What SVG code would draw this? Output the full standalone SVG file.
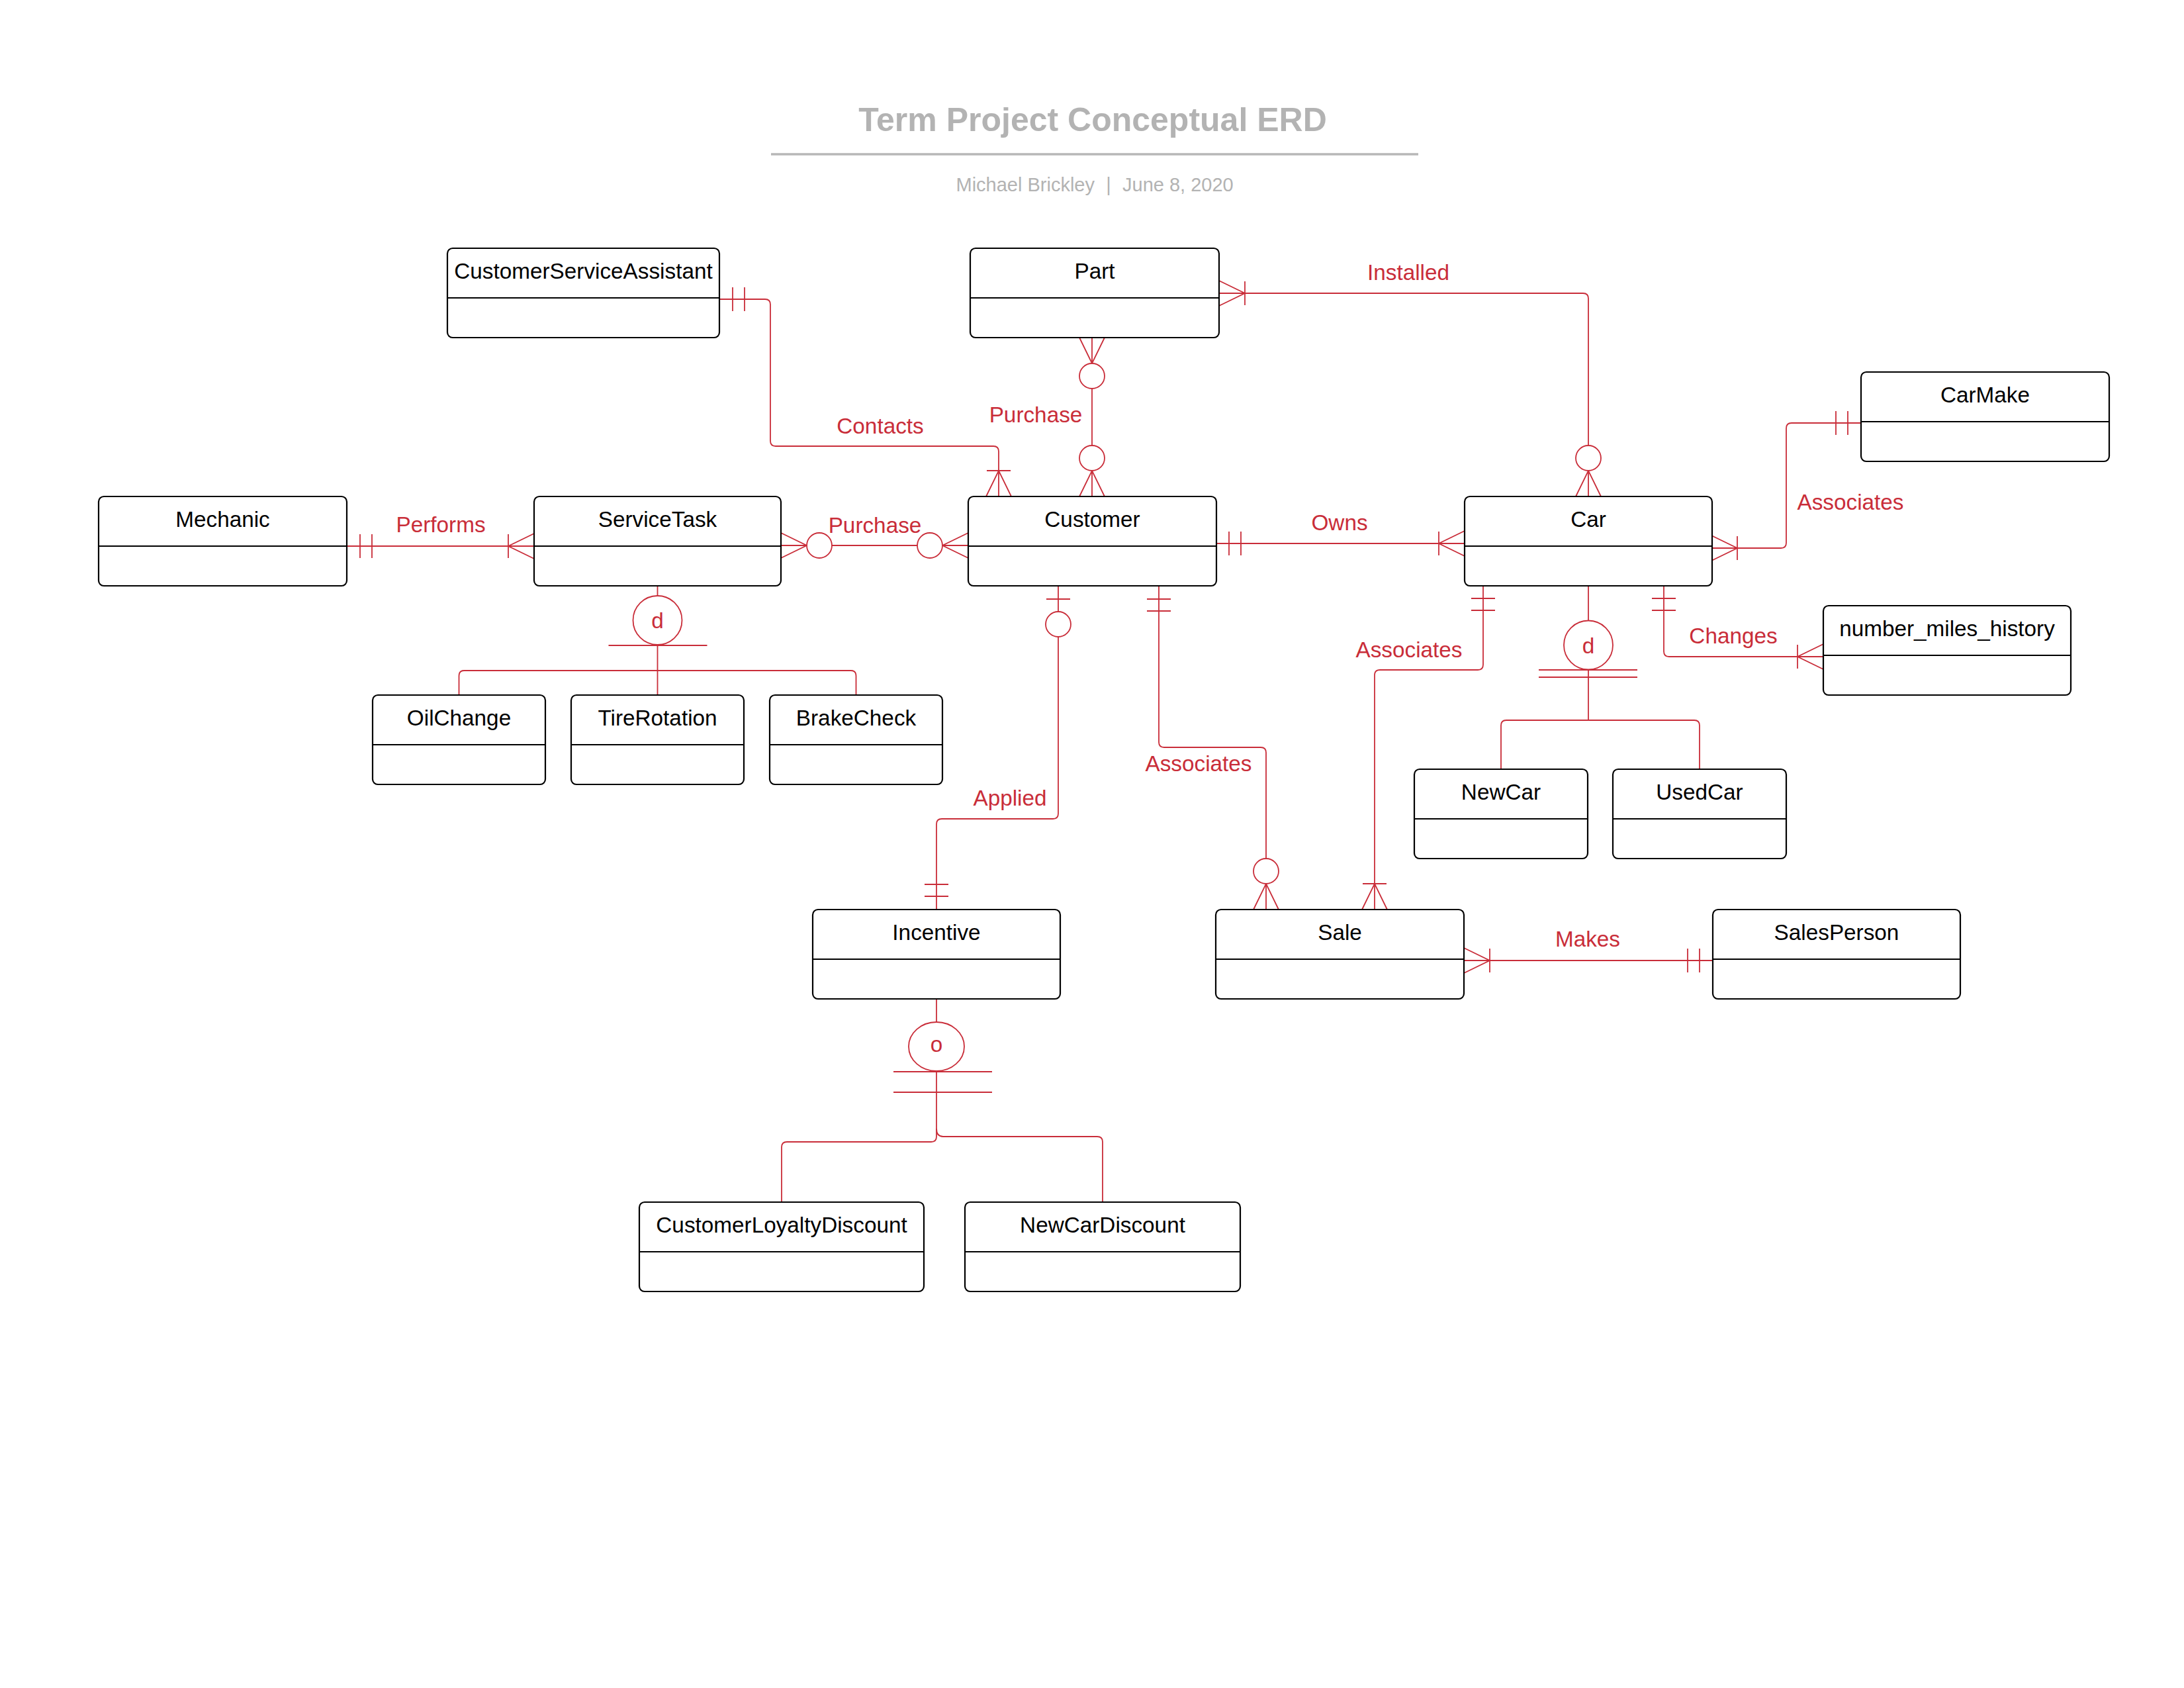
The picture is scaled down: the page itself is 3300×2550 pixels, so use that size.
<svg xmlns="http://www.w3.org/2000/svg" xmlns:xlink="http://www.w3.org/1999/xlink" width="3300" height="2550" viewBox="0 0 3300 2550">
<style>
.box{fill:#fff;stroke:#000;stroke-width:2.2}
.div{stroke:#000;stroke-width:2.2}
.et{font-family:"Liberation Sans",Arial,sans-serif;font-size:33.3px;fill:#000;text-anchor:middle}
.lbl{font-family:"Liberation Sans",Arial,sans-serif;font-size:33.3px;fill:#c92d39;text-anchor:middle}
.cn{fill:none;stroke:#c92d39;stroke-width:1.8}
.mk{fill:none;stroke:#c92d39;stroke-width:1.8}
.mkc{fill:#fff;stroke:#c92d39;stroke-width:1.8}
</style>
<defs>
<g id="oneMand"><line class="mk" x1="20" y1="-18" x2="20" y2="18"/><line class="mk" x1="38" y1="-18" x2="38" y2="18"/></g>
<g id="zeroOne"><line class="mk" x1="20" y1="-18" x2="20" y2="18"/><circle class="mkc" cx="58" cy="0" r="19"/></g>
<g id="oneMany"><path class="mk" d="M0,-19 L39,0 L0,19"/><line class="mk" x1="39" y1="-18" x2="39" y2="18"/></g>
<g id="zeroMany"><path class="mk" d="M0,-19 L39,0 L0,19"/><circle class="mkc" cx="58" cy="0" r="19"/></g>
</defs>
<rect width="3300" height="2550" fill="#fff"/>

<g id="title">
<text x="1651" y="198" font-family="Liberation Sans, Arial, sans-serif" font-size="50" font-weight="bold" fill="#b3b3b3" text-anchor="middle">Term Project Conceptual ERD</text>
<line x1="1165" y1="233" x2="2143" y2="233" stroke="#b7b7b7" stroke-width="3.5"/>
<text x="1654" y="289" font-family="Liberation Sans, Arial, sans-serif" font-size="29" fill="#b3b3b3" text-anchor="end">Michael Brickley</text>
<text x="1675" y="289" font-family="Liberation Sans, Arial, sans-serif" font-size="29" fill="#b3b3b3" text-anchor="middle">|</text>
<text x="1696" y="289" font-family="Liberation Sans, Arial, sans-serif" font-size="29" fill="#b3b3b3">June 8, 2020</text>
</g>

<g id="connectors">
<!-- Contacts -->
<path class="cn" d="M1087,452 H1156 Q1164,452 1164,460 V666 Q1164,674 1172,674 H1501 Q1509,674 1509,682 V750"/>
<use xlink:href="#oneMand" transform="translate(1087,452)"/>
<use xlink:href="#oneMany" transform="translate(1509,750) rotate(-90)"/>
<text class="lbl" x="1330" y="655">Contacts</text>
<!-- Purchase Part-Customer -->
<path class="cn" d="M1650,510 V750"/>
<use xlink:href="#zeroMany" transform="translate(1650,510) rotate(90)"/>
<use xlink:href="#zeroMany" transform="translate(1650,750) rotate(-90)"/>
<text class="lbl" x="1565" y="638">Purchase</text>
<!-- Installed -->
<path class="cn" d="M1842,443 H2392 Q2400,443 2400,451 V750"/>
<use xlink:href="#oneMany" transform="translate(1842,443)"/>
<use xlink:href="#zeroMany" transform="translate(2400,750) rotate(-90)"/>
<text class="lbl" x="2128" y="423">Installed</text>
<!-- Owns -->
<path class="cn" d="M1837,821 H2213"/>
<use xlink:href="#oneMand" transform="translate(1837,821)"/>
<use xlink:href="#oneMany" transform="translate(2213,821) rotate(180)"/>
<text class="lbl" x="2024" y="801">Owns</text>
<!-- Purchase ServiceTask-Customer -->
<path class="cn" d="M1180,824 H1463"/>
<use xlink:href="#zeroMany" transform="translate(1180,824)"/>
<use xlink:href="#zeroMany" transform="translate(1463,824) rotate(180)"/>
<text class="lbl" x="1322" y="805">Purchase</text>
<!-- Performs -->
<path class="cn" d="M524,825 H807"/>
<use xlink:href="#oneMand" transform="translate(524,825)"/>
<use xlink:href="#oneMany" transform="translate(807,825) rotate(180)"/>
<text class="lbl" x="666" y="804">Performs</text>
<!-- ServiceTask subtypes -->
<path class="cn" d="M993.5,885 V900"/>
<ellipse class="mkc" cx="993.5" cy="937" rx="37" ry="37"/>
<text class="lbl" x="993.5" y="949">d</text>
<path class="cn" d="M919.5,975 H1068.5"/>
<path class="cn" d="M993.5,974 V1050"/>
<path class="cn" d="M693.5,1050 V1021 Q693.5,1013 701.5,1013 H1285.5 Q1293.5,1013 1293.5,1021 V1050"/>
<!-- Car subtypes -->
<path class="cn" d="M2400,884 V937.5"/>
<ellipse class="mkc" cx="2400" cy="974.5" rx="37" ry="37"/>
<text class="lbl" x="2400" y="986.5">d</text>
<path class="cn" d="M2325,1012 H2474 M2325,1023 H2474"/>
<path class="cn" d="M2400,1011.5 V1088"/>
<path class="cn" d="M2268,1162 V1096 Q2268,1088 2276,1088 H2560 Q2568,1088 2568,1096 V1162"/>
<!-- Car-CarMake Associates -->
<path class="cn" d="M2586,828 H2691 Q2699,828 2699,820 V647 Q2699,639 2707,639 H2812"/>
<use xlink:href="#oneMany" transform="translate(2586,828)"/>
<use xlink:href="#oneMand" transform="translate(2812,639) rotate(180)"/>
<text class="lbl" x="2796" y="770">Associates</text>
<!-- Changes -->
<path class="cn" d="M2514,884 V984 Q2514,992 2522,992 H2755"/>
<use xlink:href="#oneMand" transform="translate(2514,884) rotate(90)"/>
<use xlink:href="#oneMany" transform="translate(2755,992) rotate(180)"/>
<text class="lbl" x="2619" y="972">Changes</text>
<!-- Car-Sale Associates -->
<path class="cn" d="M2241,884 V1004 Q2241,1012 2233,1012 H2085 Q2077,1012 2077,1020 V1374"/>
<use xlink:href="#oneMand" transform="translate(2241,884) rotate(90)"/>
<use xlink:href="#oneMany" transform="translate(2077,1374) rotate(-90)"/>
<text class="lbl" x="2129" y="993">Associates</text>
<!-- Customer-Sale Associates -->
<path class="cn" d="M1751,885 V1121 Q1751,1129 1759,1129 H1905 Q1913,1129 1913,1137 V1374"/>
<use xlink:href="#oneMand" transform="translate(1751,885) rotate(90)"/>
<use xlink:href="#zeroMany" transform="translate(1913,1374) rotate(-90)"/>
<text class="lbl" x="1811" y="1165">Associates</text>
<!-- Applied -->
<path class="cn" d="M1599,885 V1229 Q1599,1237 1591,1237 H1423 Q1415,1237 1415,1245 V1374"/>
<use xlink:href="#zeroOne" transform="translate(1599,885) rotate(90)"/>
<use xlink:href="#oneMand" transform="translate(1415,1374) rotate(-90)"/>
<text class="lbl" x="1526" y="1217">Applied</text>
<!-- Makes -->
<path class="cn" d="M2212,1451 H2588"/>
<use xlink:href="#oneMany" transform="translate(2212,1451)"/>
<use xlink:href="#oneMand" transform="translate(2588,1451) rotate(180)"/>
<text class="lbl" x="2399" y="1430">Makes</text>
<!-- Incentive subtypes -->
<path class="cn" d="M1415,1509 V1544"/>
<ellipse class="mkc" cx="1415" cy="1581" rx="42" ry="37"/>
<text class="lbl" x="1415" y="1589">o</text>
<path class="cn" d="M1350,1619 H1499 M1350,1650 H1499"/>
<path class="cn" d="M1415,1618 V1707"/>
<path class="cn" d="M1415,1705 V1717 Q1415,1725 1407,1725 H1189 Q1181,1725 1181,1733 V1816"/>
<path class="cn" d="M1415,1705 Q1415,1717 1425,1717 H1658 Q1666,1717 1666,1725 V1816"/>
</g>

<g id="CustomerServiceAssistant"><rect class="box" x="676" y="375" width="411" height="135" rx="8"/><line class="div" x1="676" y1="450" x2="1087" y2="450"/><text class="et" x="881.5" y="421">CustomerServiceAssistant</text></g>
<g id="Part"><rect class="box" x="1466" y="375" width="376" height="135" rx="8"/><line class="div" x1="1466" y1="450" x2="1842" y2="450"/><text class="et" x="1654" y="421">Part</text></g>
<g id="Customer"><rect class="box" x="1463" y="750" width="375" height="135" rx="8"/><line class="div" x1="1463" y1="825" x2="1838" y2="825"/><text class="et" x="1650.5" y="796">Customer</text></g>
<g id="Car"><rect class="box" x="2213" y="750" width="374" height="135" rx="8"/><line class="div" x1="2213" y1="825" x2="2587" y2="825"/><text class="et" x="2400" y="796">Car</text></g>
<g id="CarMake"><rect class="box" x="2812" y="562" width="375" height="135" rx="8"/><line class="div" x1="2812" y1="637" x2="3187" y2="637"/><text class="et" x="2999.5" y="608">CarMake</text></g>
<g id="number_miles_history"><rect class="box" x="2755" y="915" width="374" height="135" rx="8"/><line class="div" x1="2755" y1="990" x2="3129" y2="990"/><text class="et" x="2942" y="961">number_miles_history</text></g>
<g id="Mechanic"><rect class="box" x="149" y="750" width="375" height="135" rx="8"/><line class="div" x1="149" y1="825" x2="524" y2="825"/><text class="et" x="336.5" y="796">Mechanic</text></g>
<g id="ServiceTask"><rect class="box" x="807" y="750" width="373" height="135" rx="8"/><line class="div" x1="807" y1="825" x2="1180" y2="825"/><text class="et" x="993.5" y="796">ServiceTask</text></g>
<g id="OilChange"><rect class="box" x="563" y="1050" width="261" height="135" rx="8"/><line class="div" x1="563" y1="1125" x2="824" y2="1125"/><text class="et" x="693.5" y="1096">OilChange</text></g>
<g id="TireRotation"><rect class="box" x="863" y="1050" width="261" height="135" rx="8"/><line class="div" x1="863" y1="1125" x2="1124" y2="1125"/><text class="et" x="993.5" y="1096">TireRotation</text></g>
<g id="BrakeCheck"><rect class="box" x="1163" y="1050" width="261" height="135" rx="8"/><line class="div" x1="1163" y1="1125" x2="1424" y2="1125"/><text class="et" x="1293.5" y="1096">BrakeCheck</text></g>
<g id="NewCar"><rect class="box" x="2137" y="1162" width="262" height="135" rx="8"/><line class="div" x1="2137" y1="1237" x2="2399" y2="1237"/><text class="et" x="2268" y="1208">NewCar</text></g>
<g id="UsedCar"><rect class="box" x="2437" y="1162" width="262" height="135" rx="8"/><line class="div" x1="2437" y1="1237" x2="2699" y2="1237"/><text class="et" x="2568" y="1208">UsedCar</text></g>
<g id="Incentive"><rect class="box" x="1228" y="1374" width="374" height="135" rx="8"/><line class="div" x1="1228" y1="1449" x2="1602" y2="1449"/><text class="et" x="1415" y="1420">Incentive</text></g>
<g id="Sale"><rect class="box" x="1837" y="1374" width="375" height="135" rx="8"/><line class="div" x1="1837" y1="1449" x2="2212" y2="1449"/><text class="et" x="2024.5" y="1420">Sale</text></g>
<g id="SalesPerson"><rect class="box" x="2588" y="1374" width="374" height="135" rx="8"/><line class="div" x1="2588" y1="1449" x2="2962" y2="1449"/><text class="et" x="2775" y="1420">SalesPerson</text></g>
<g id="CustomerLoyaltyDiscount"><rect class="box" x="966" y="1816" width="430" height="135" rx="8"/><line class="div" x1="966" y1="1891" x2="1396" y2="1891"/><text class="et" x="1181" y="1862">CustomerLoyaltyDiscount</text></g>
<g id="NewCarDiscount"><rect class="box" x="1458" y="1816" width="416" height="135" rx="8"/><line class="div" x1="1458" y1="1891" x2="1874" y2="1891"/><text class="et" x="1666" y="1862">NewCarDiscount</text></g>
</svg>
